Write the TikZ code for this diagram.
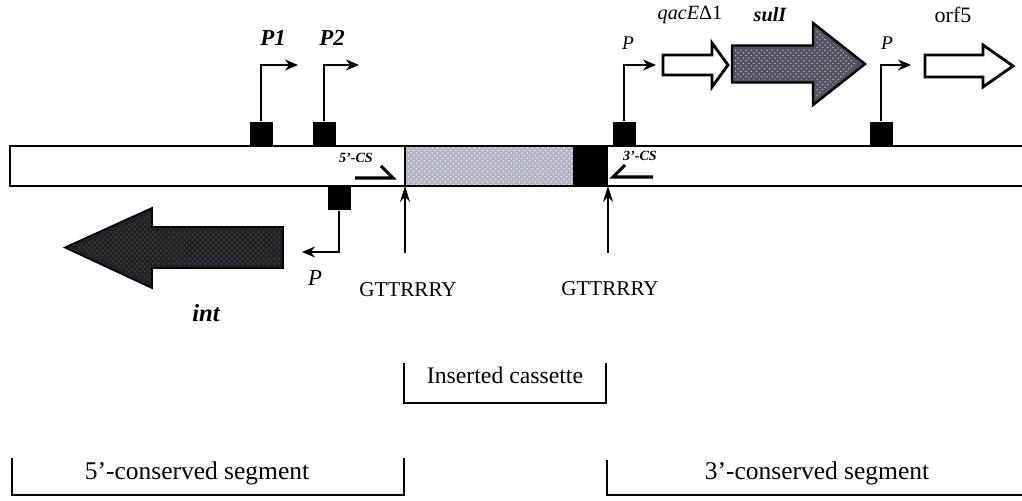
\documentclass[tikz,border=0pt]{standalone}
\usepackage{fontspec}
\setmainfont{Liberation Serif}
\usepackage{xcolor}
\usepackage{tikz}
\usetikzlibrary{arrows.meta,positioning,patterns,calc}

\definecolor{cassgray}{RGB}{178,180,196}
\definecolor{suldark}{RGB}{82,82,98}
\definecolor{intdark}{RGB}{34,34,38}

\begin{document}
\begin{tikzpicture}[
  >=Stealth,
  prombox/.style={fill=black, minimum width=0.46cm, minimum height=0.48cm, inner sep=0pt},
  promarrow/.style={line width=1.2pt, -{Stealth[length=0.26cm, width=0.22cm]}},
  sitearrow/.style={line width=1.1pt, -{Stealth[length=0.32cm, width=0.2cm]}},
  harpoon/.style={line width=1.8pt},
  bracket/.style={line width=1pt},
  promlab/.style={font=\fontsize{13}{15}\selectfont\bfseries\itshape},
  smallprom/.style={font=\fontsize{11}{13}\selectfont\itshape},
  genelab/.style={font=\fontsize{11.5}{13}\selectfont\bfseries\itshape},
  cslab/.style={font=\fontsize{8}{9}\selectfont\bfseries\itshape},
  sitelab/.style={font=\fontsize{12}{14}\selectfont},
  seglab/.style={font=\fontsize{14.5}{17}\selectfont},
]
\useasboundingbox (0,0) rectangle (20.44,10.02);

% Backbone with inserted cassette
\coordinate (bartop) at (0,7.10);
\coordinate (barbot) at (0,6.30);
\fill[cassgray] (8.10,6.30) rectangle (11.46,7.10);
\fill[pattern=crosshatch dots, pattern color=white!80!cassgray] (8.10,6.30) rectangle (11.46,7.10);
\fill[black] (11.46,6.30) rectangle (12.16,7.10);
\draw[line width=1.3pt] (20.7,7.10) -- (0.2,7.10) -- (0.2,6.30) -- (20.7,6.30);
\draw[line width=0.8pt] (8.10,6.30) -- (8.10,7.10);

% Promoters on top
\node[prombox, anchor=south] (p1) at (5.22,7.10) {};
\node[prombox, anchor=south] (p2) at (6.48,7.10) {};
\node[prombox, anchor=south] (pqac) at (12.48,7.10) {};
\node[prombox, anchor=south] (porf) at (17.62,7.10) {};
\coordinate (p1end) at (5.96,8.72);
\coordinate (p2end) at (7.18,8.72);
\coordinate (pqacend) at (13.12,8.72);
\coordinate (porfend) at (18.22,8.72);
\draw[promarrow] (p1.north) |- (p1end);
\draw[promarrow] (p2.north) |- (p2end);
\draw[promarrow, line width=0.9pt] (pqac.north) |- (pqacend);
\draw[promarrow, line width=0.9pt] (porf.north) |- (porfend);
\node[promlab] (p1lab) at (5.46,9.26) {P1};
\node[promlab] (p2lab) at (6.64,9.26) {P2};
\node[smallprom] (pqaclab) at (12.56,9.16) {P};
\node[smallprom] (porflab) at (17.74,9.16) {P};

% Promoter of int, below
\node[prombox, anchor=north] (pint) at (6.78,6.30) {};
\coordinate (pintend) at (6.04,4.98);
\draw[promarrow] (pint.south) |- (pintend);
\node[font=\fontsize{13}{15}\selectfont\itshape] (pintlab) at (6.30,4.46) {P};

% Genes
\filldraw[fill=intdark, line width=1pt]
  (5.66,5.48) -- (3.04,5.48) -- (3.04,5.86) -- (1.30,5.07)
  -- (3.04,4.26) -- (3.04,4.66) -- (5.66,4.66) -- cycle;
\fill[pattern=crosshatch dots, pattern color=gray!60!black]
  (5.60,5.42) -- (3.04,5.42) -- (3.04,5.76) -- (1.50,5.07)
  -- (3.04,4.36) -- (3.04,4.72) -- (5.60,4.72) -- cycle;
\draw[line width=1.6pt, fill=white]
  (13.26,8.92) -- (14.24,8.92) -- (14.24,9.16) -- (14.56,8.72)
  -- (14.24,8.28) -- (14.24,8.52) -- (13.26,8.52) -- cycle;
\filldraw[fill=suldark, line width=1.4pt]
  (14.64,9.11) -- (16.26,9.11) -- (16.26,9.56) -- (17.30,8.74)
  -- (16.26,7.92) -- (16.26,8.37) -- (14.64,8.37) -- cycle;
\fill[pattern=crosshatch dots, pattern color=gray!60]
  (14.70,9.05) -- (16.30,9.05) -- (16.30,9.45) -- (17.16,8.74)
  -- (16.30,8.03) -- (16.30,8.43) -- (14.70,8.43) -- cycle;
\draw[line width=1.6pt, fill=white]
  (18.50,8.92) -- (19.66,8.92) -- (19.66,9.12) -- (20.26,8.70)
  -- (19.66,8.28) -- (19.66,8.48) -- (18.50,8.48) -- cycle;
\node[font=\fontsize{11.5}{13}\selectfont] (qaclab) at (13.80,9.72) {\textit{qacE}Δ1};
\node[genelab] (sullab) at (15.40,9.72) {sulI};
\node[font=\fontsize{12.5}{14}\selectfont] (orflab) at (19.06,9.72) {orf5};
\node[font=\fontsize{14}{16}\selectfont\bfseries\itshape] (intlab) at (4.12,3.76) {int};

% Conserved-segment primers
\node[cslab] (cs5lab) at (7.12,6.86) {5'-CS};
\node[cslab] (cs3lab) at (12.80,6.90) {3'-CS};
\draw[harpoon] (7.10,6.46) -- (7.86,6.46) -- (7.62,6.70);
\draw[harpoon] (13.06,6.48) -- (12.26,6.48) -- (12.50,6.72);

% Recombination sites
\coordinate (site1) at (8.10,4.96);
\coordinate (site2) at (12.16,4.96);
\draw[sitearrow] (site1) -- (site1 |- barbot);
\draw[sitearrow] (site2) -- (site2 |- barbot);
\node[sitelab] (gtt1) at (8.16,4.22) {GTTRRRY};
\node[sitelab] (gtt2) at (12.20,4.24) {GTTRRRY};

% Segment brackets
\draw[bracket] (8.08,2.76) |- (12.12,1.96) -- (12.12,2.76);
\node[font=\fontsize{13.5}{16}\selectfont] (casslab) at (10.10,2.52) {Inserted cassette};
\draw[bracket] (0.24,0.86) |- (8.08,0.12) -- (8.08,0.86);
\node[seglab] (seg5lab) at (3.94,0.56) {5'-conserved segment};
\draw[bracket] (12.14,0.82) |- (20.50,0.12);
\node[seglab] (seg3lab) at (16.34,0.56) {3'-conserved segment};
\end{tikzpicture}
\end{document}
